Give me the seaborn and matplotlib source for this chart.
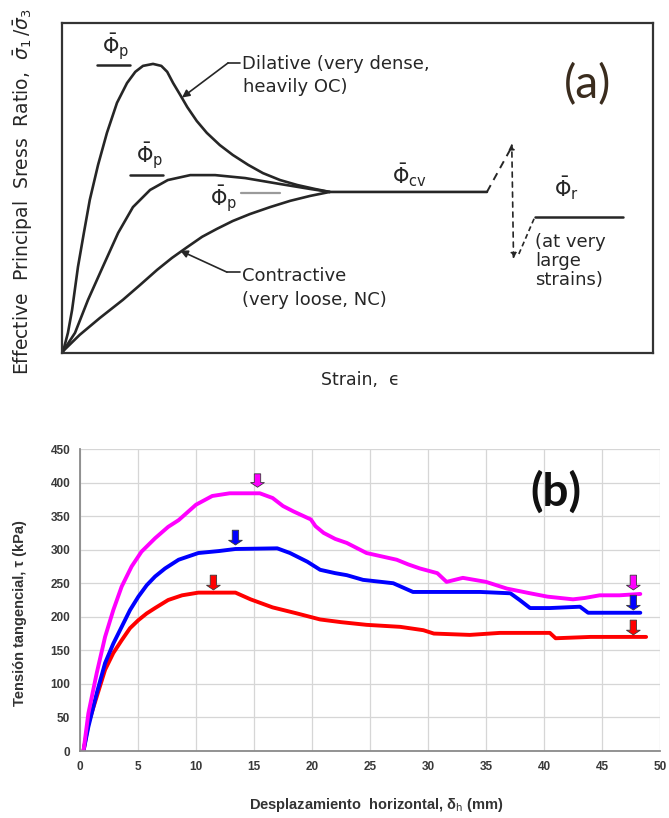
import numpy as np
import pandas as pd
import matplotlib
matplotlib.use("Agg")
import matplotlib.pyplot as plt
import seaborn as sns

# ---------------- Panel (a): schematic (strain, normalized stress ratio 0-100) -------------
dil_x = [0.2, 1.0, 1.7, 2.7, 3.7, 4.7, 6.1, 7.6, 9.3, 11.0, 12.4, 13.7, 15.4, 16.8, 17.8, 18.8, 20.0,
         21.2, 22.8, 24.5, 26.7, 28.9, 31.5, 34.0, 36.9, 39.8, 42.8, 45.3, 71.9]
dil_y = [0.6, 6.1, 13.0, 26.1, 36.4, 46.4, 57.0, 66.7, 75.8, 81.8, 85.2, 87.0, 87.6, 87.0, 85.2, 81.8, 78.2,
         74.5, 70.3, 66.7, 63.0, 60.0, 57.0, 54.5, 52.4, 50.9, 49.7, 48.8, 48.8]
mid_x = [0.2, 2.2, 4.4, 6.9, 9.5, 12.0, 14.9, 17.9, 21.7, 25.9, 31.0, 36.9, 42.0, 45.3]
mid_y = [0.6, 6.1, 16.1, 26.1, 36.4, 44.2, 49.4, 52.4, 53.9, 53.9, 53.0, 51.2, 49.7, 48.8]
con_x = [0.2, 3.0, 6.4, 10.3, 13.2, 16.1, 18.6, 21.2, 23.7, 26.2, 28.9, 31.8, 35.2, 38.6, 42.0, 45.3]
con_y = [0.6, 5.5, 10.6, 16.1, 20.6, 25.2, 28.8, 32.1, 35.2, 37.6, 40.0, 42.1, 44.2, 46.1, 47.6, 48.8]

# ---------------- Panel (b): direct shear curves (mm, kPa) ----------------
mag_x = [0.3, 0.72, 1.44, 2.16, 2.87, 3.59, 4.45, 5.3, 6.47, 7.6, 8.5, 10.0, 11.4, 12.9, 15.5, 16.6, 17.5,
         18.4, 19.9, 20.3, 21.0, 22.0, 23.0, 24.7, 26.0, 27.3, 28.3, 29.3, 30.8, 31.6, 32.3, 33.0, 35.0,
         36.8, 38.8, 40.3, 42.5, 43.5, 44.8, 46.5, 48.3]
mag_y = [0, 56, 116, 170, 210, 245, 275, 297, 317, 334, 344, 367, 380, 384, 384, 377, 365,
         357, 345, 335, 325, 316, 310, 295, 290, 285, 278, 272, 265, 252, 255, 258, 252,
         242, 235, 230, 226, 228, 232, 232, 234]
blu_x = [0.3, 0.72, 1.44, 2.16, 2.87, 3.59, 4.31, 5.03, 5.75, 6.47, 7.33, 8.5, 10.2, 12.0, 13.4, 17.0,
         18.1, 19.6, 20.7, 22.0, 23.0, 24.4, 27.0, 28.7, 31.9, 34.5, 37.1, 37.9, 38.8, 40.5, 43.1, 43.8, 48.3]
blu_y = [0, 36, 86, 131, 160, 185, 210, 230, 247, 260, 272, 285, 295, 298, 301, 302,
         295, 282, 270, 265, 262, 255, 250, 237, 237, 237, 235, 225, 213, 213, 215, 206, 206]
red_x = [0.3, 0.72, 1.44, 2.16, 2.87, 3.59, 4.31, 5.03, 5.75, 6.47, 7.6, 8.8, 10.2, 13.4, 14.7, 16.6,
         18.7, 20.7, 22.5, 24.7, 27.6, 29.6, 30.5, 33.6, 36.2, 40.5, 41.0, 44.0, 48.8]
red_y = [0, 41, 81, 121, 146, 165, 183, 195, 205, 213, 225, 232, 236, 236, 226, 214,
         205, 196, 192, 188, 185, 180, 175, 173, 176, 176, 168, 170, 170]

# arrow markers (x mm, top kPa, tip kPa)
arr_x = [15.3, 13.4, 11.5, 47.7, 47.7, 47.7]
arr_top = [413, 329, 262, 262, 232, 195]
arr_tip = [393, 307, 240, 240, 210, 173]
arr_col = ["#ff00ff", "#0000ff", "#ff0000", "#ff00ff", "#0000ff", "#ff0000"]

x_ticks = list(range(0, 51, 5))
y_ticks = list(range(0, 451, 50))

sns.set_theme(style="white")
plt.rcParams["font.family"] = ["DejaVu Sans"]
plt.rcParams["mathtext.fontset"] = "dejavusans"

fig = plt.figure(figsize=(6.69, 8.18), dpi=100)
ink = "#262626"

# ================= Panel (a) =================
axa = fig.add_axes([0.0927, 0.5685, 0.8834, 0.4034])
dfa = pd.concat([
    pd.DataFrame({"x": dil_x, "y": dil_y, "c": "dil"}),
    pd.DataFrame({"x": mid_x, "y": mid_y, "c": "mid"}),
    pd.DataFrame({"x": con_x, "y": con_y, "c": "con"}),
])
sns.lineplot(data=dfa, x="x", y="y", hue="c", palette={"dil": ink, "mid": ink, "con": ink},
             estimator=None, sort=False, legend=False, lw=1.9, ax=axa)
for ln in axa.get_lines():
    ln.set_solid_joinstyle("round")
    ln.set_solid_capstyle("round")
axa.set_xlim(0, 100)
axa.set_ylim(0, 100)
axa.set_xticks([])
axa.set_yticks([])
for s in axa.spines.values():
    s.set_visible(True)
    s.set_color("#333333")
    s.set_linewidth(1.6)
axa.set_xlabel("")
axa.set_ylabel("")

# residual branch
axa.plot([71.9, 75.8], [48.8, 61.5], ls=(0, (4, 3)), color=ink, lw=1.4)
axa.annotate("", xy=(76.1, 63.5), xytext=(76.4, 28.5),
             arrowprops=dict(arrowstyle="<|-|>", ls=(0, (3, 3)), color=ink, lw=1.2,
                             mutation_scale=8, shrinkA=0, shrinkB=0))
axa.plot([77.3, 80.0], [30.0, 41.2], ls=(0, (3, 2)), color=ink, lw=1.2)
axa.plot([80.0, 94.9], [41.2, 41.2], color=ink, lw=1.8)

# phi labels and marks
tkw = dict(color=ink, fontsize=15, ha="center", va="center")
axa.text(9.0, 92.6, r"$\bar{\Phi}_{\mathrm{p}}$", **tkw)
axa.plot([5.9, 11.5], [87.3, 87.3], color=ink, lw=1.8)
axa.text(14.9, 59.6, r"$\bar{\Phi}_{\mathrm{p}}$", **tkw)
axa.plot([11.5, 17.1], [53.9, 53.9], color=ink, lw=1.8)
axa.text(27.4, 46.5, r"$\bar{\Phi}_{\mathrm{p}}$", **tkw)
axa.plot([30.3, 36.9], [48.6, 48.6], color="#9a9a9a", lw=1.6)
axa.text(58.8, 54.0, r"$\bar{\Phi}_{\mathrm{cv}}$", **tkw)
axa.text(85.4, 50.0, r"$\bar{\Phi}_{\mathrm{r}}$", **tkw)

lkw = dict(color=ink, fontsize=13, ha="left", va="center")
axa.text(30.4, 87.6, "Dilative (very dense,", **lkw)
axa.text(30.6, 80.6, "heavily OC)", **lkw)
axa.plot([30.1, 28.1], [87.9, 87.9], color=ink, lw=1.2)
axa.annotate("", xy=(20.3, 77.4), xytext=(28.1, 87.9),
             arrowprops=dict(arrowstyle="-|>", color=ink, lw=1.2, mutation_scale=11,
                             shrinkA=0, shrinkB=0))
axa.text(30.4, 23.3, "Contractive", **lkw)
axa.text(30.4, 16.1, "(very loose, NC)", **lkw)
axa.plot([30.1, 27.9], [24.5, 24.5], color=ink, lw=1.2)
axa.annotate("", xy=(20.0, 31.0), xytext=(27.9, 24.5),
             arrowprops=dict(arrowstyle="-|>", color=ink, lw=1.2, mutation_scale=11,
                             shrinkA=0, shrinkB=0))
axa.text(80.0, 36.5, "(at very\nlarge\nstrains)", color=ink, fontsize=13, ha="left", va="top",
         linespacing=1.1)

fig.text(0.034, 0.766, r"Effective  Principal  Sress  Ratio,  $\bar{\sigma}_1\,/\bar{\sigma}_3$",
         rotation=90, ha="center", va="center", fontsize=13.5, color=ink)
fig.text(0.538, 0.535, "Strain,  \u03f5", ha="center", va="center", fontsize=12.5, color=ink)
fig.text(0.879, 0.896, "(a)", ha="center", va="center", fontsize=33, color="#3a2c1e",
         family=["Lato", "DejaVu Sans"])

# ================= Panel (b) =================
axb = fig.add_axes([0.1196, 0.0819, 0.8670, 0.3692])
dfb = pd.concat([
    pd.DataFrame({"x": red_x, "y": red_y, "s": "red"}),
    pd.DataFrame({"x": blu_x, "y": blu_y, "s": "blue"}),
    pd.DataFrame({"x": mag_x, "y": mag_y, "s": "magenta"}),
])
sns.lineplot(data=dfb, x="x", y="y", hue="s", hue_order=["red", "blue", "magenta"],
             palette={"red": "#ff0000", "blue": "#0000ff", "magenta": "#ff00ff"},
             estimator=None, sort=False, legend=False, lw=2.8, ax=axb)
for x, t, b, c in zip(arr_x, arr_top, arr_tip, arr_col):
    axb.arrow(x, t, 0, b - t, width=0.55, head_width=1.2, head_length=7,
              length_includes_head=True, fc=c, ec="#3a3a3a", lw=0.6, zorder=5)

axb.set_xlim(0, 50)
axb.set_ylim(0, 450)
axb.set_xticks(x_ticks)
axb.set_yticks(y_ticks)
axb.grid(True, color="#d6d6d6", lw=0.9)
axb.set_axisbelow(True)
for k in ["top", "right"]:
    axb.spines[k].set_visible(False)
for k in ["left", "bottom"]:
    axb.spines[k].set_color("#8a8a8a")
    axb.spines[k].set_linewidth(1.3)
axb.tick_params(axis="both", which="major", direction="out", length=4, width=1,
                color="#8a8a8a", labelsize=8.5, labelcolor="#383838", pad=3)
for lab in axb.get_xticklabels() + axb.get_yticklabels():
    lab.set_fontweight("bold")
    lab.set_family(["Liberation Sans", "DejaVu Sans"])
axb.set_xlabel("")
axb.set_ylabel("")
fig.text(0.030, 0.251, "Tensión tangencial, τ (kPa)", rotation=90, ha="center", va="center",
         fontsize=10.5, fontweight="bold", color="#333333", family=["Liberation Sans", "DejaVu Sans"])
fig.text(0.563, 0.016, r"Desplazamiento  horizontal, δ$_{\mathrm{h}}$ (mm)", ha="center", va="center",
         fontsize=10.5, fontweight="bold", color="#333333", family=["Liberation Sans", "DejaVu Sans"])
axb.text(41.0, 386, "(b)", ha="center", va="center", fontsize=33, fontweight="bold", color="#111111",
         family=["Lato", "DejaVu Sans"])

fig.savefig("out.png", dpi=100)
